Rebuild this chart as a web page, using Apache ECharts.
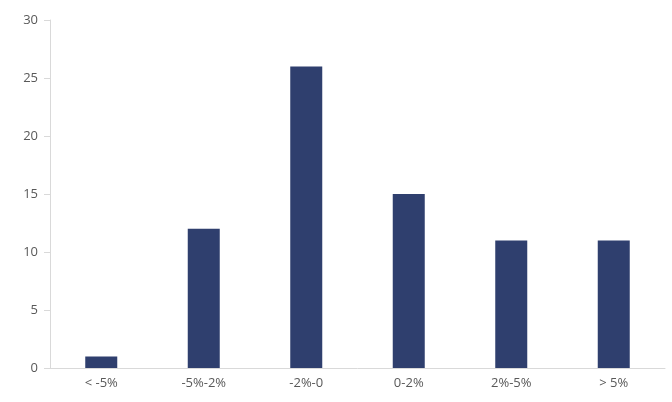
<!DOCTYPE html>
<html>
<head>
<meta charset="utf-8">
<script src="https://cdn.jsdelivr.net/npm/echarts@6/dist/echarts.min.js"></script>
<style>
    html, body { margin: 0; padding: 0; background: #fff; }
    #chart { width: 672px; height: 402px; }
</style>
</head>
<body>
<div id="chart"></div>
<script>
const categories = ['< -5%', '-5%-2%', '-2%-0', '0-2%', '2%-5%', '> 5%'];
const counts = [1, 12, 26, 15, 11, 11];

const chart = echarts.init(document.getElementById('chart'));

const option = {
    animation: false,
    grid: {
        left: 50,
        right: 7,
        top: 20,
        bottom: 34
    },
    xAxis: {
        type: 'category',
        data: categories,
        axisLine: { lineStyle: { color: '#d9d9d9', width: 1 } },
        axisTick: { show: false },
        axisLabel: {
            color: '#595959',
            fontSize: 13,
            fontFamily: 'Open Sans',
            margin: 9
        }
    },
    yAxis: {
        type: 'value',
        min: 0,
        max: 30,
        interval: 5,
        splitLine: { show: false },
        axisLine: { show: true, lineStyle: { color: '#d9d9d9', width: 1 } },
        axisTick: { show: true, length: 6, lineStyle: { color: '#d9d9d9' } },
        axisLabel: {
            color: '#595959',
            fontSize: 13,
            fontFamily: 'Open Sans',
            margin: 12
        }
    },
    series: [
        {
            type: 'bar',
            data: counts,
            barWidth: 32,
            itemStyle: { color: '#2f3f6e' }
        }
    ]
};

chart.setOption(option);
</script>
</body>
</html>
